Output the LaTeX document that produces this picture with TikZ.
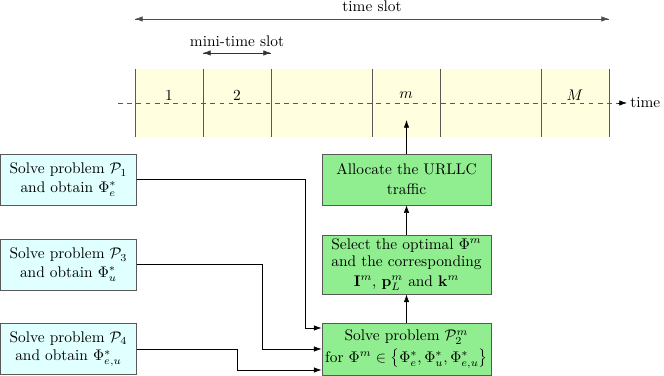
\documentclass[tikz,border=0pt]{standalone}
\usepackage{amsmath,amssymb}
\usetikzlibrary{arrows.meta,calc}

\definecolor{bandyellow}{RGB}{255,255,224}
\definecolor{boxcyan}{RGB}{224,255,255}
\definecolor{boxgreen}{RGB}{144,238,144}

\begin{document}
\begin{tikzpicture}[x=0.65pt,y=-0.65pt,
  arr/.style={-{Latex[length=5pt,width=3.5pt]}},
  probbox/.style={draw=black!65,fill=boxcyan,minimum width=88pt,minimum height=33pt,align=center,inner sep=2pt},
  stepbox/.style={draw=black!65,fill=boxgreen,minimum width=110pt,align=center,inner sep=2pt}]
\useasboundingbox (0,0) rectangle (664,376);
% time axis
\fill[bandyellow] (135,69) rectangle (609,137);
\foreach \x in {135,203,271,372,440,541,609}
  \draw[black!65] (\x,69) -- (\x,137);
\coordinate (tstart) at (118,103);
\coordinate (tend) at (627,103);
\draw[dashed,black!65] (tstart) -- (618,103);
\draw[arr] (618,103) -- (tend);
\node[anchor=west,inner sep=0] (time) at (630,103) {time};
\node (n1) at (169,95) {1};
\node (n2) at (237,95) {2};
\node (nm) at (406,95) {$m$};
\node (nM) at (575,95) {$M$};
% slot lengths
\coordinate (ts1) at (135,19);
\coordinate (ts2) at (609,19);
\draw[arr,black!70] (ts1) -- (ts2);
\draw[arr,black!70] (ts2) -- (ts1);
\node (tslot) at (372,6) {time slot};
\coordinate (ms1) at (203,53);
\coordinate (ms2) at (271,53);
\draw[arr,black!80] (ms1) -- (ms2);
\draw[arr,black!80] (ms2) -- (ms1);
\node (mslot) at (237,41) {mini-time slot};
% problem boxes
\node[probbox] (p1) at (68.5,179.5) {Solve problem $\mathcal{P}_1$\\and obtain $\Phi_e^*$};
\node[probbox] (p3) at (68.5,264.5) {Solve problem $\mathcal{P}_3$\\and obtain $\Phi_u^*$};
\node[probbox] (p4) at (68.5,349) {Solve problem $\mathcal{P}_4$\\and obtain $\Phi_{e,u}^*$};
\node[stepbox,minimum height=33pt] (alloc) at (406.5,179.5) {Allocate the URLLC\\[1pt]traffic};
\node[stepbox,minimum height=38.5pt] (select) at (406.5,264.5) {Select the optimal $\Phi^m$\\[-1pt]and the corresponding\\[1pt]$\mathbf{I}^m$, $\mathbf{p}_L^m$ and $\mathbf{k}^m$};
\node[stepbox,minimum height=33.8pt] (solve) at (406.5,349) {Solve problem $\mathcal{P}_2^m$\\[2pt]for $\Phi^m\in\big\{\Phi_e^*,\Phi_u^*,\Phi_{e,u}^*\big\}$};
% connectors
\draw[arr] (p1.east) -- ++(169,0) |- ($(solve.west)+(0,-21)$);
\draw[arr] (p3.east) -- ++(126,0) |- (solve.west);
\draw[arr] (p4.east) -- ++(101,0) |- ($(solve.west)+(0,21)$);
\draw[arr] (solve) -- (select);
\draw[arr] (select) -- (alloc);
\coordinate (slotm) at (406.5,120);
\draw[arr] (alloc) -- (slotm);
\end{tikzpicture}
\end{document}
